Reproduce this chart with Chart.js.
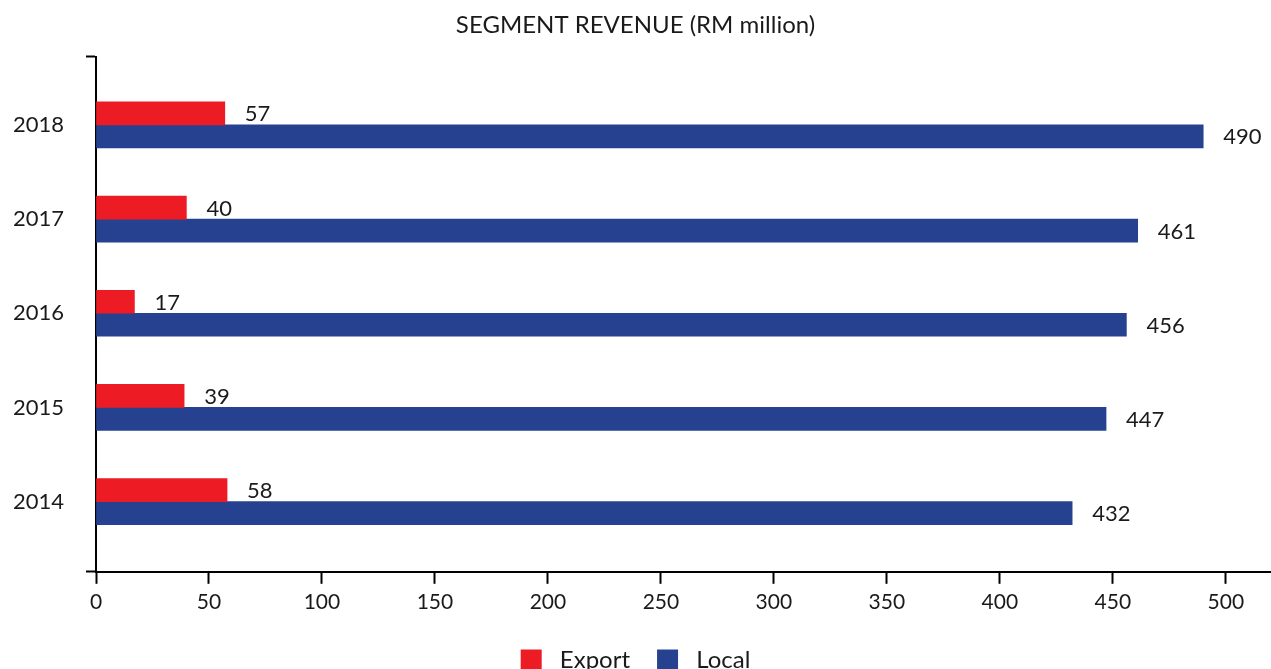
<!doctype html>
<html lang="en">
<head>
    <meta charset="UTF-8">
    <title>Segment Revenue</title>
    <style>
        html, body { margin: 0; padding: 0; overflow: hidden; background: #fff; }
        #wrap { width: 1271px; height: 682px; }
    </style>
</head>
<body>
    <div id="wrap">
        <canvas id="myChart"></canvas>
    </div>
<script src="https://cdn.jsdelivr.net/npm/chart.js"></script>
<script>
    var years = [2014, 2015, 2016, 2017, 2018];
    var exportValues = [58, 39, 17, 40, 57];
    var localValues = [432, 447, 456, 461, 490];
    var xTicks = [0, 50, 100, 150, 200, 250, 300, 350, 400, 450, 500];

    var yMin = 2013.255, yMax = 2018.723; // axis runs a bit past first/last year

    var font = 'Lato';
    var textColor = '#1a1a1a';

    // value labels to the right of each bar
    var barLabels = {
        id: 'barLabels',
        afterDatasetsDraw: function(chart) {
            var ctx = chart.ctx;
            ctx.save();
            ctx.font = '22px ' + font;
            ctx.fillStyle = textColor;
            ctx.textBaseline = 'middle';
            ctx.textAlign = 'left';
            chart.data.datasets.forEach(function(ds, i) {
                chart.getDatasetMeta(i).data.forEach(function(bar, j) {
                    ctx.fillText(ds.data[j].x, bar.x + 20, bar.y + 1);
                });
            });
            ctx.restore();
        }
    };

    function pairs(values) {
        return years.map(function(y, i) { return { x: values[i], y: y }; });
    }

    var ctx = document.getElementById('myChart').getContext('2d');
    var chart = new Chart(ctx, {
        type: 'bar',
        data: {
            datasets: [{
                label: 'Export',
                data: pairs(exportValues),
                backgroundColor: '#ed1c24',
                barThickness: 23
            }, {
                label: 'Local',
                data: pairs(localValues),
                backgroundColor: '#26418f',
                barThickness: 23
            }]
        },
        options: {
            indexAxis: 'y',
            responsive: true,
            maintainAspectRatio: false,
            animation: false,
            layout: { padding: 0 },
            scales: {
                x: {
                    type: 'linear',
                    min: 0,
                    max: 520,
                    afterBuildTicks: function(s) {
                        s.ticks = xTicks.map(function(v) { return { value: v }; });
                    },
                    border: { color: '#000', width: 2 },
                    grid: { drawOnChartArea: false, tickLength: 12, tickColor: '#000', tickWidth: 2 },
                    ticks: { color: textColor, font: { family: font, size: 21 }, padding: 6 }
                },
                y: {
                    type: 'linear',
                    min: yMin,
                    max: yMax,
                    offset: false,
                    afterBuildTicks: function(s) {
                        var t = [{ value: yMin }];
                        years.forEach(function(y) { t.push({ value: y }); });
                        t.push({ value: yMax });
                        s.ticks = t;
                    },
                    afterFit: function(s) { s.width = 96; },
                    border: { color: '#000', width: 2 },
                    grid: {
                        offset: false,
                        drawOnChartArea: false,
                        tickLength: 10,
                        tickWidth: 2,
                        tickColor: function(c) {
                            return (c.tick && years.indexOf(c.tick.value) === -1) ? '#000' : 'rgba(0,0,0,0)';
                        }
                    },
                    ticks: {
                        color: textColor,
                        font: { family: font, size: 22 },
                        padding: 22,
                        callback: function(v) { return years.indexOf(v) === -1 ? '' : String(v); }
                    }
                }
            },
            plugins: {
                title: {
                    display: true,
                    text: 'SEGMENT REVENUE (RM million)',
                    color: textColor,
                    font: { family: font, size: 24, weight: 'normal' },
                    padding: { top: 11, bottom: 17 }
                },
                legend: {
                    position: 'bottom',
                    labels: {
                        color: textColor,
                        font: { family: font, size: 24 },
                        boxWidth: 21,
                        boxHeight: 21,
                        padding: 27,
                        generateLabels: function(chart) {
                            var items = Chart.defaults.plugins.legend.labels.generateLabels(chart);
                            items.forEach(function(it) { it.text = ' ' + it.text; });
                            return items;
                        }
                    }
                },
                tooltip: { enabled: false }
            }
        },
        plugins: [barLabels]
    });
</script>
</body>
</html>
